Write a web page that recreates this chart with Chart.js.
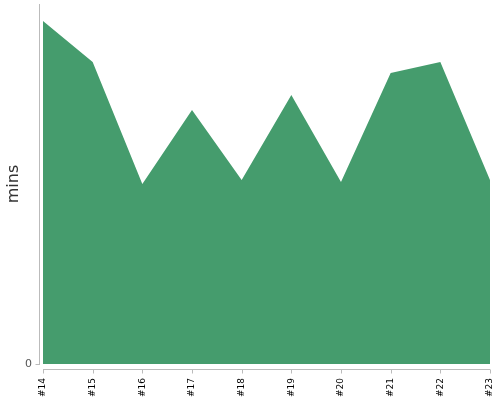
<!DOCTYPE html>
<html>
<head>
<meta charset="utf-8">
<script src="https://cdn.jsdelivr.net/npm/chart.js@4/dist/chart.umd.min.js"></script>
<style>
  body { margin: 0; background: #fff; }
  #wrap { width: 500px; height: 400px; position: relative; }
</style>
</head>
<body>
<div id="wrap"><canvas id="chart"></canvas></div>
<script>
const builds = ["#14", "#15", "#16", "#17", "#18", "#19", "#20", "#21", "#22", "#23"];
const minutes = [34.3, 30.2, 18.0, 25.4, 18.4, 26.9, 18.2, 29.1, 30.2, 18.4];
const yTicks = [0];

// axis lines sit a few px off the plot, drawn here
const axisLines = {
    id: "axisLines",
    afterDraw(chart) {
        const { ctx, chartArea: a, scales: { x, y } } = chart;
        ctx.save();
        ctx.strokeStyle = "#bbb";
        ctx.lineWidth = 1;
        ctx.beginPath();
        const yx = a.left - 3.5;
        ctx.moveTo(yx, a.top);
        ctx.lineTo(yx, a.bottom + 1);
        yTicks.forEach(v => {
            const py = Math.round(y.getPixelForValue(v)) + 0.5;
            ctx.moveTo(yx - 4, py);
            ctx.lineTo(yx, py);
        });
        const xb = a.bottom + 5.5;
        ctx.moveTo(a.left, xb);
        ctx.lineTo(a.right, xb);
        x.ticks.forEach((t, i) => {
            const px = Math.round(x.getPixelForTick(i)) + 0.5;
            ctx.moveTo(px, xb);
            ctx.lineTo(px, xb + 4);
        });
        ctx.stroke();
        ctx.restore();
    }
};

new Chart(document.getElementById("chart"), {
    type: "line",
    data: {
        labels: builds,
        datasets: [{
            data: minutes,
            fill: "origin",
            backgroundColor: "#459c6d",
            borderWidth: 0,
            pointRadius: 0,
            tension: 0
        }]
    },
    options: {
        responsive: true,
        maintainAspectRatio: false,
        animation: false,
        layout: { padding: { top: 4, right: 10, left: 0, bottom: 0 } },
        scales: {
            x: {
                offset: false,
                grid: { display: false, drawTicks: false },
                border: { display: false },
                afterFit: scale => {
                    scale.height = 36;
                    scale.paddingLeft = 0;
                    scale.paddingRight = 0;
                },
                ticks: {
                    autoSkip: false,
                    minRotation: 90,
                    maxRotation: 90,
                    padding: 14,
                    color: "#000",
                    font: { family: "DejaVu Sans", size: 9 }
                }
            },
            y: {
                min: 0,
                max: 36,
                grid: { display: false, drawTicks: false },
                border: { display: false },
                afterFit: scale => {
                    scale.width = 43;
                    scale.paddingTop = 0;
                    scale.paddingBottom = 0;
                },
                afterBuildTicks: scale => { scale.ticks = yTicks.map(value => ({ value })); },
                ticks: {
                    padding: 11,
                    color: "#555",
                    font: { family: "DejaVu Sans", size: 11 }
                },
                title: {
                    display: true,
                    text: "mins",
                    color: "#333",
                    padding: { top: 4, bottom: 0 },
                    font: { family: "DejaVu Sans", size: 16 }
                }
            }
        },
        plugins: {
            legend: { display: false },
            tooltip: { enabled: false }
        }
    },
    plugins: [axisLines]
});
</script>
</body>
</html>
